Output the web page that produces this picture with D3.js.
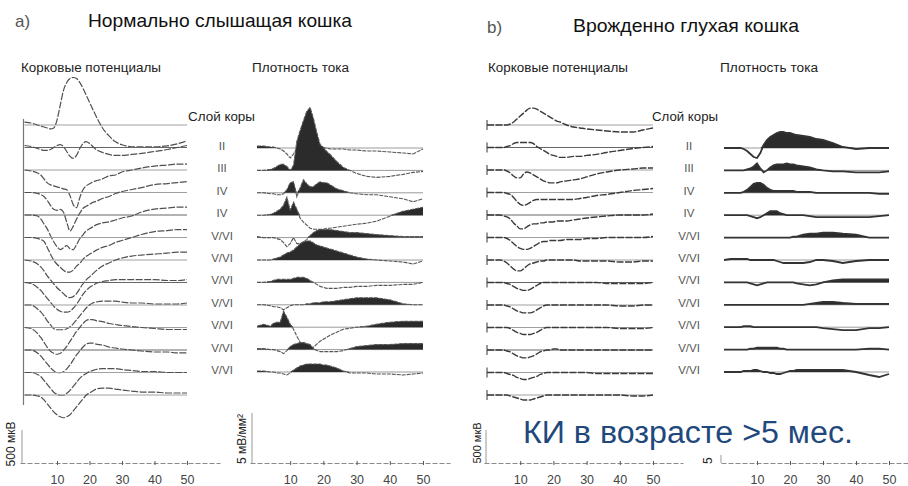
<!DOCTYPE html>
<html><head><meta charset="utf-8">
<script src="https://cdn.jsdelivr.net/npm/d3@7"></script>
<style>body{margin:0;background:#fff}svg{display:block}</style>
</head><body>
<svg id="c" width="908" height="486"></svg>
<script>
// ---- data ----
const timesMs = [0,2,4,5,6,7,8,9,10,11,12,13,14,15,16,17,18,19,20,21,22,24,26,28,30,33,36,40,44,47,50];
const xTicks = [10,20,30,40,50];
const layerLabels = ["II","III","IV","IV","V/VI","V/VI","V/VI","V/VI","V/VI","V/VI","V/VI"];

// cortical potentials, µV (normal hearing cat)
const lfpNormal = [
 [45,30,0,-15,-30,-45,-60,-45,75,300,525,645,705,720,705,645,555,450,345,240,135,-45,-165,-255,-300,-330,-330,-330,-315,-285,-240],
 [30,15,-15,-30,-45,-45,-30,0,30,45,15,-60,-135,-165,-120,-15,60,90,60,15,-30,-75,-105,-120,-120,-105,-90,-60,-30,0,30],
 [0,-15,-45,-75,-135,-195,-225,-240,-255,-270,-285,-300,-390,-525,-570,-420,-300,-240,-210,-180,-165,-135,-90,-75,-30,0,30,60,75,90,90],
 [0,0,-15,-30,-60,-120,-195,-255,-270,-255,-300,-450,-585,-510,-405,-315,-240,-210,-180,-150,-135,-90,-60,-15,15,45,75,120,135,150,165],
 [0,0,-15,-60,-135,-210,-315,-405,-480,-525,-495,-465,-510,-525,-450,-360,-300,-240,-210,-180,-150,-120,-105,-75,-45,-15,45,90,105,120,120],
 [0,0,-15,-30,-60,-150,-255,-345,-405,-450,-495,-525,-525,-495,-435,-390,-330,-285,-255,-225,-195,-150,-120,-75,-45,0,45,90,105,120,120],
 [0,-15,-60,-105,-165,-240,-300,-360,-420,-465,-510,-555,-570,-555,-510,-435,-360,-300,-255,-210,-165,-90,-45,0,30,60,75,90,105,120,120],
 [0,-15,-75,-120,-180,-240,-300,-360,-405,-435,-450,-450,-435,-390,-330,-255,-180,-120,-75,-45,-15,15,30,45,45,45,45,45,30,30,45],
 [0,0,-60,-105,-165,-240,-300,-360,-375,-375,-375,-360,-330,-285,-225,-165,-105,-45,0,30,45,60,60,60,45,30,30,15,15,15,30],
 [0,-15,-90,-150,-225,-300,-360,-390,-405,-390,-345,-285,-210,-135,-60,0,60,105,120,120,105,90,60,45,30,15,0,-15,-30,-30,-30],
 [0,0,-45,-90,-150,-210,-270,-315,-345,-345,-330,-285,-225,-150,-75,-15,45,90,105,105,90,75,45,30,15,0,-15,-30,-30,-45,-45],
 [0,0,-30,-60,-120,-180,-240,-300,-330,-345,-345,-315,-270,-210,-150,-90,-45,-15,15,30,45,60,60,60,45,30,15,15,0,0,0],
 [0,0,-15,-30,-75,-135,-195,-255,-300,-330,-345,-330,-300,-240,-180,-120,-60,0,30,60,90,105,105,90,75,60,45,45,30,30,30]
];
// current source density, mV/mm² (normal hearing cat)
const csdNormal = [
 [0.2,0.2,0.1,0.1,0,-0.1,-0.3,-0.6,-1.0,-0.6,0,0,0,0,0,0,0,0,0,0,-0.1,-0.1,-0.1,-0.2,-0.2,-0.3,-0.3,-0.4,-0.5,-0.6,-0.1],
 [0,0,0.1,0.2,0.4,0.6,0.6,0.4,0,0.5,2.9,4.0,5.0,5.9,6.3,5.2,3.8,2.6,2.3,1.9,1.6,0.9,0.3,0,-0.3,-0.6,-0.7,-0.6,-0.4,-0.2,-0.1],
 [0,0,-0.1,-0.1,-0.2,-0.2,-0.1,0.3,1.0,1.1,-0.4,0.5,1.3,0.9,0.6,0.6,0.9,1.1,1.0,1.0,0.8,0.4,0.2,0,-0.1,-0.2,-0.2,-0.4,-0.6,-0.9,-0.6],
 [0,0,0.1,0.2,0.4,0.6,1.0,1.8,0.5,1.3,0.6,-0.3,-0.7,-1.0,-1.3,-1.4,-1.4,-1.4,-1.4,-1.3,-1.3,-1.2,-1.1,-1.0,-0.9,-0.8,-0.6,-0.1,0.4,0.6,0.8],
 [0.1,0,0,0,-0.1,-0.2,-0.5,-0.9,-0.6,0,-0.6,-0.6,-0.4,-0.2,0.2,0.5,0.7,0.8,0.8,0.8,0.8,0.7,0.6,0.5,0.5,0.4,0.3,0.2,0.1,0.1,0.1],
 [0,0,0,0.1,0.2,0.3,0.5,0.7,0.8,1.0,1.3,1.6,1.8,1.9,1.9,1.7,1.5,1.4,1.3,1.2,1.1,0.9,0.7,0.5,0.3,0.1,0,-0.1,-0.2,-0.4,-0.1],
 [0,0,0.1,0.2,0.3,0.3,0.3,0.3,0.3,0.4,0.5,0.5,0.5,0.4,0.2,0,-0.2,-0.4,-0.5,-0.6,-0.6,-0.6,-0.5,-0.5,-0.4,-0.4,-0.3,-0.3,-0.2,-0.2,0],
 [0,0,-0.1,-0.2,-0.2,-0.3,-0.5,-0.3,-0.1,0,0,0,0,0.1,0.1,0.2,0.2,0.2,0.3,0.3,0.3,0.4,0.5,0.6,0.7,0.7,0.7,0.5,0.1,0,0],
 [0.1,0.3,0.1,0.4,0.5,0.5,1.6,1.0,0.3,-0.2,-0.9,-1.5,-1.9,-2.1,-2.2,-2.0,-1.7,-1.4,-1.2,-1.0,-0.8,-0.5,-0.2,-0.1,0,0.1,0.3,0.5,0.6,0.6,0.6],
 [0.1,0.1,0,0,-0.1,-0.2,-0.4,-0.1,0.3,0.5,0.6,0.7,0.7,0.6,0.5,0.1,-0.1,-0.2,-0.2,-0.2,-0.2,-0.2,-0.1,0.1,0.3,0.4,0.5,0.5,0.6,0.6,0.6],
 [0.1,0.1,0,0,-0.1,-0.1,-0.2,-0.3,-0.1,0.2,0.4,0.6,0.7,0.8,0.8,0.8,0.8,0.8,0.7,0.7,0.6,0.4,0.1,-0.1,-0.1,-0.1,-0.2,-0.2,-0.3,-0.2,-0.1]
];
// cortical potentials, µV (congenitally deaf cat)
const lfpDeaf = [
 [0,0,0,0,0,15,45,90,135,180,225,255,255,240,210,180,150,120,90,60,45,0,-30,-45,-60,-75,-90,-105,-105,-75,-45],
 [0,0,0,0,15,30,60,75,75,75,75,75,60,15,-15,-45,-75,-105,-120,-135,-150,-150,-135,-135,-120,-105,-75,-45,-15,0,15],
 [0,0,0,0,-15,-45,-90,-120,-120,-60,-30,-45,-75,-105,-135,-165,-180,-195,-195,-195,-180,-165,-150,-135,-105,-60,-30,0,15,30,30],
 [0,0,0,0,-15,-30,-75,-135,-180,-195,-180,-150,-120,-105,-105,-105,-105,-105,-105,-105,-105,-105,-105,-90,-75,-45,-30,0,30,45,60],
 [0,0,0,-15,-30,-60,-120,-165,-210,-210,-180,-150,-135,-135,-120,-120,-105,-105,-105,-90,-90,-90,-75,-60,-45,-30,-15,0,0,0,15],
 [0,0,0,0,-15,-45,-90,-135,-165,-180,-180,-165,-135,-105,-75,-60,-60,-45,-45,-45,-45,-30,-30,-30,-15,-15,0,0,0,0,15],
 [0,0,0,-15,-45,-90,-135,-165,-165,-135,-90,-60,-45,-30,-15,-15,0,0,0,0,0,0,0,-15,-15,-15,-15,-30,-30,-15,-15],
 [0,0,0,0,-15,-30,-60,-90,-105,-120,-120,-105,-75,-45,-15,0,0,0,0,0,0,0,0,0,0,0,-15,-15,-15,-15,0],
 [0,0,0,0,-15,-30,-60,-90,-105,-120,-120,-120,-105,-75,-45,-15,0,0,0,0,0,0,0,0,0,0,0,-15,-15,0,0],
 [0,0,0,0,0,-15,-45,-75,-90,-105,-105,-105,-90,-75,-45,-15,0,0,0,0,0,0,0,0,0,0,0,-15,-15,-15,0],
 [0,0,0,0,-15,-30,-60,-90,-105,-120,-120,-105,-90,-60,-30,-15,0,0,15,15,0,0,0,0,0,0,0,0,0,0,0],
 [0,0,0,0,-15,-30,-45,-75,-90,-105,-105,-90,-75,-60,-30,-15,0,0,0,0,0,0,0,0,0,-15,-15,-15,-15,-15,-15],
 [0,0,0,0,0,-15,-30,-45,-60,-75,-75,-75,-60,-45,-30,-15,0,0,0,0,0,0,0,0,0,0,0,0,-15,-15,0]
];
// current source density, mV/mm² (congenitally deaf cat)
const csdDeaf = [
 [0,0,0,0,-0.1,-0.3,-0.6,-0.9,-1.0,-0.5,0.3,0.8,1.1,1.3,1.5,1.6,1.6,1.5,1.5,1.4,1.3,1.2,1.1,0.9,0.8,0.5,0.1,-0.1,0,0,0],
 [0,0,0,0,0,0.1,0.2,0.4,0.7,0.2,-0.2,0,0.3,0.5,0.6,0.6,0.6,0.7,0.6,0.6,0.5,0.4,0.3,0.1,0,-0.1,-0.1,-0.2,-0.2,-0.2,-0.1],
 [0,0,0,0,0.1,0.3,0.6,0.9,1.0,1.0,0.8,0.5,0.3,0.2,0.2,0.2,0.2,0.2,0.2,0.2,0.1,0.1,0.1,0,0,0,0,0,0,-0.1,-0.1],
 [0,0,0,0,0,0,-0.1,-0.2,-0.3,-0.2,0,0.2,0.4,0.4,0.4,0.2,0.1,0,0,0,0,0,-0.1,-0.2,-0.2,-0.2,-0.2,-0.2,-0.2,-0.1,0],
 [0,0,0,0,0,0,0,0,0,0,0,0,0,0,0,0,0,0,0,0.1,0.1,0.3,0.4,0.4,0.5,0.5,0.4,0.3,0,0,0],
 [0,0.1,0.1,0.1,0.1,0.1,0,0,0,0,0,0,0,0,-0.1,-0.2,-0.3,-0.3,-0.3,-0.3,-0.3,-0.3,-0.2,0,0,-0.1,-0.3,-0.1,0,0,0],
 [0,0,0,0,0,0,-0.1,-0.2,-0.3,-0.2,-0.1,0,0,0,0,0,0,0,0,0,-0.1,-0.2,-0.3,-0.2,0,0.2,0.3,0.3,0.3,0.3,0.3],
 [0,0,0,0,0,0,0,0,0,0,0,0,0,0,0,0,0,0,0,0,0,0,0.1,0.2,0.3,0.3,0.2,0.1,0.1,0.1,0.1],
 [0,0,0,0,0.1,0.1,0.1,0,0,0,0,0,0,0,0,0,0,0,0,0,0,0,0,0,-0.1,-0.2,-0.3,-0.3,-0.1,-0.1,0],
 [0,0,0,0,0,0,0.1,0.1,0.2,0.2,0.2,0.2,0.2,0.2,0.2,0.1,0.1,0,0,0,0,0,0,0,0,0,0,0,0.1,0.1,0],
 [0,0,0,0,0.1,0.1,0.1,0.2,0.2,0.1,0,0,-0.1,-0.1,-0.2,-0.2,-0.1,0,0.1,0.1,0.2,0.2,0.2,0.2,0.2,0.2,0.2,0,-0.3,-0.5,-0.2]
];

// ---- drawing ----
const svg = d3.select("#c");
const FONT = "'Liberation Sans', Arial, sans-serif";
const NARROW = "'Liberation Sans Narrow', 'Liberation Sans', Arial, sans-serif";
svg.append("rect").attr("width",908).attr("height",486).attr("fill","#fff");

const uvScale = d3.scaleLinear().domain([0,500]).range([0,-33]);   // 500 µV bar
const csdScale = d3.scaleLinear().domain([0,5]).range([0,-50]);    // 5 mV/mm² bar
const AXIS_Y = 463;

function txt(x,y,s,o={}){
  const t = svg.append("text").attr("x",x).attr("y",y).text(s)
    .attr("font-family",o.family||FONT).attr("font-size",o.size||12)
    .attr("fill",o.fill||"#222").attr("text-anchor",o.anchor||"start");
  if(o.len) t.attr("textLength",o.len).attr("lengthAdjust","spacingAndGlyphs");
  if(o.baseline) t.attr("dominant-baseline",o.baseline);
  return t;
}

function drawAxis(x, x0, x1){
  const s = d3.scaleLinear().domain([x.invert(x0), x.invert(x1)]).range([x0,x1]);
  const g = svg.append("g").attr("transform",`translate(0,${AXIS_Y})`)
    .call(d3.axisBottom(s).tickValues(xTicks).tickSize(3).tickSizeOuter(0).tickPadding(9));
  g.select(".domain").attr("stroke","#8a8a8a").attr("stroke-dasharray","5,2");
  g.selectAll(".tick line").attr("stroke","#555").attr("y1",-2).attr("y2",2);
  g.selectAll(".tick text").attr("font-family",FONT).attr("font-size",12.5).attr("fill","#444");
}

function drawLfp(data, xr, tickMode, heavy){
  const x = d3.scaleLinear().domain([0,50]).range(xr);
  const row = d3.scaleLinear().domain([0,data.length-1]).range([125,395]);
  const g = svg.append("g");
  if(tickMode==="continuous"){
    g.append("line").attr("x1",xr[0]-1).attr("x2",xr[0]-1).attr("y1",119).attr("y2",405)
      .attr("stroke","#777").attr("stroke-width",1.2);
  }
  data.forEach((vals,i)=>{
    const bl = row(i);
    g.append("line").attr("x1",x(0)).attr("x2",x(50)).attr("y1",bl).attr("y2",bl)
      .attr("stroke", i%3===1 ? "#666" : "#a0a0a0").attr("stroke-width",1);
    if(tickMode==="ticks"){
      g.append("line").attr("x1",x(0)).attr("x2",x(0)).attr("y1",bl-5).attr("y2",bl+5)
        .attr("stroke","#555").attr("stroke-width",1.2);
    }
    const line = d3.line().x((d,j)=>x(timesMs[j])).y(d=>bl+uvScale(d)).curve(d3.curveMonotoneX);
    g.append("path").attr("d",line(vals)).attr("fill","none")
      .attr("stroke", heavy ? "#3a3a3a" : "#505050")
      .attr("stroke-width", heavy ? 1.4 : 1.2)
      .attr("stroke-dasharray","7,1.5");
  });
  return x;
}

function drawCsd(data, xr, heavy){
  const x = d3.scaleLinear().domain([0,50]).range(xr);
  const row = d3.scaleLinear().domain([0,data.length-1]).range([148,372]);
  const g = svg.append("g");
  data.forEach((vals,i)=>{
    const bl = row(i);
    g.append("line").attr("x1",x(0)).attr("x2",x(50)).attr("y1",bl).attr("y2",bl)
      .attr("stroke","#9a9a9a").attr("stroke-width",1);
    const area = d3.area().x((d,j)=>x(timesMs[j])).y0(bl)
      .y1(d=>bl+csdScale(Math.max(0,d))).curve(d3.curveLinear);
    g.append("path").attr("d",area(vals)).attr("fill","#2b2b2b");
    const line = d3.line().x((d,j)=>x(timesMs[j])).y(d=>bl+csdScale(d)).curve(d3.curveLinear);
    g.append("path").attr("d",line(vals)).attr("fill","none")
      .attr("stroke", heavy ? "#333" : "#555")
      .attr("stroke-width", heavy ? 1.8 : 1.1)
      .attr("stroke-dasharray", heavy ? null : "4,1");
  });
  return x;
}

function layerCol(cx){
  const row = d3.scaleLinear().domain([0,layerLabels.length-1]).range([148,372]);
  layerLabels.forEach((l,i)=>{
    txt(cx, row(i)-2, l, {family:NARROW, size:11.5, fill:"#555", anchor:"middle", baseline:"central"});
  });
}

function scaleBar(x, scale, val, labelX, labelY, label, labelSize){
  svg.append("line").attr("x1",x).attr("x2",x).attr("y1",AXIS_Y).attr("y2",AXIS_Y+scale(val))
    .attr("stroke","#999").attr("stroke-width",1);
  svg.append("text").attr("transform",`translate(${labelX},${labelY}) rotate(-90)`)
    .attr("text-anchor","middle").attr("font-family",FONT).attr("font-size",labelSize)
    .attr("fill","#222").text(label);
}

// Panel a
const xa1 = drawLfp(lfpNormal,[24.5,187],"continuous",false);
const xa2 = drawCsd(csdNormal,[257,423],false);
drawAxis(xa1, 20, 220);
drawAxis(xa2, 250, 450);
layerCol(222);
// Panel b
const xb1 = drawLfp(lfpDeaf,[487,653],"ticks",true);
const xb2 = drawCsd(csdDeaf,[724,889],true);
drawAxis(xb1, 484, 683);
drawAxis(xb2, 721, 908);
layerCol(689);

// scale bars
scaleBar(22, uvScale, 500, 15, 444, "500 мкВ", 12);
scaleBar(252, csdScale, 5, 246, 439, "5 мВ/мм²", 12);
scaleBar(486, uvScale, 500, 481, 443, "500 мкВ", 11);
scaleBar(721, csdScale, 5, 712, 439, "5 мВ/мм²", 12);

// titles
txt(15, 27, "a)", {size:17, fill:"#555", family:NARROW});
txt(88, 27, "Нормально слышащая  кошка", {size:19, fill:"#111", len:264});
txt(487, 33, "b)", {size:17, fill:"#555", family:NARROW});
txt(573, 32, "Врожденно глухая кошка", {size:19, fill:"#111", len:226});
txt(21, 72, "Корковые  потенциалы", {size:12.5, fill:"#222", len:140});
txt(252, 72, "Плотность  тока", {size:12.5, fill:"#222", len:97});
txt(188, 121, "Слой  коры", {size:12.5, fill:"#222", len:67});
txt(488, 72, "Корковые  потенциалы", {size:12.5, fill:"#222", len:140});
txt(720, 72, "Плотность  тока", {size:12.5, fill:"#222", len:98});
txt(652, 121, "Слой  коры", {size:12.5, fill:"#222", len:66});

// overlay caption
svg.append("rect").attr("x",513).attr("y",406).attr("width",350).attr("height",49).attr("fill","#fff");
txt(523, 443, "КИ в возрасте >5 мес.", {size:31, fill:"#1f497d", len:330});
</script>
</body></html>
